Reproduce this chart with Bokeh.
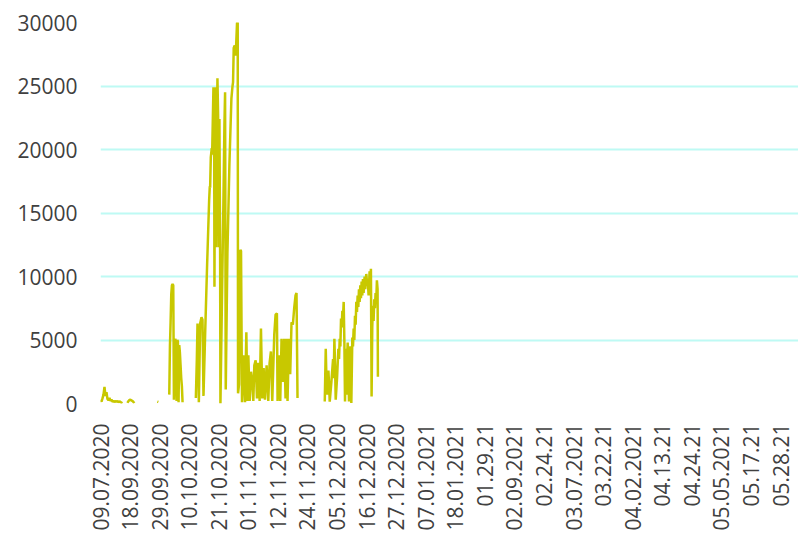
from bokeh.plotting import figure
from bokeh.models import Range1d, FixedTicker
from bokeh.embed import file_html
from bokeh.resources import INLINE

# category labels shown on the x axis (one every 89 rows)
x_labels = ["09.07.2020", "18.09.2020", "29.09.2020", "10.10.2020", "21.10.2020",
            "01.11.2020", "12.11.2020", "24.11.2020", "05.12.2020", "16.12.2020",
            "27.12.2020", "07.01.2021", "18.01.2021", "01.29.21", "02.09.2021",
            "02.24.21", "03.07.2021", "03.22.21", "04.02.2021", "04.13.21",
            "04.24.21", "05.05.2021", "05.17.21", "05.28.21"]
label_step = 89
n_rows = 2101
y_ticks = [0, 5000, 10000, 15000, 20000, 25000, 30000]

# series segments (row index, value); gaps between segments are empty rows
idx_a = [0, 3, 6, 9, 12, 15, 18, 21, 24, 27, 30, 33, 36, 39, 42, 45, 48, 51, 54, 57, 60, 63, 66]
val_a = [300, 150, 400, 700, 1300, 600, 900, 350, 250, 450, 200, 300, 150, 200, 120, 180,
         150, 200, 100, 160, 120, 60, 20]

idx_b = [81, 84, 87, 90, 93, 96, 99, 102]
val_b = [50, 180, 280, 300, 250, 200, 120, 30]

idx_c = [171, 174]
val_c = [150, 120]

idx_d = [207, 209, 211, 213, 215, 217, 219, 221, 223, 225, 227, 229, 231, 233, 235, 237,
         239, 241, 243, 245, 247]
val_d = [700, 4500, 6400, 8600, 9300, 9400, 9300, 300, 3000, 5100, 4800, 200, 5000, 4900,
         100, 4600, 4000, 3000, 2000, 1350, 100]

idx_e = [287, 290, 292, 294, 296, 300, 304, 307, 310, 315, 321, 327, 329, 330, 332, 335,
         336, 340, 342, 343, 345, 347, 348, 350, 352, 354, 356, 358, 360, 361, 365, 370,
         373, 375, 377, 382, 388, 394, 397, 399, 401, 404, 406, 408, 411, 413, 414, 417,
         421, 423, 426, 430, 435, 439, 442, 445, 449, 453, 457, 460, 463, 467, 471, 475,
         479, 483, 487, 491, 495, 500, 505, 509, 513, 517, 523, 527, 531, 533, 537, 541,
         545, 549, 553, 557, 560, 563, 567, 571, 575, 579, 583, 587, 590, 593]
val_e = [440, 3500, 6300, 5000, 100, 6300, 6800, 6600, 600, 5500, 11000, 16000, 17100,
         17000, 19400, 20100, 19600, 24900, 24000, 9200, 24900, 18800, 12300, 20100, 25600,
         22700, 12300, 22400, 12300, 0, 7100, 15900, 21900, 24500, 1100, 11800, 18800,
         24000, 24900, 25300, 28000, 28200, 27400, 28000, 30000, 30000, 800, 1500, 12100,
         12000, 100, 3800, 100, 5600, 200, 3800, 200, 2500, 1700, 200, 3000, 3400, 400,
         3200, 200, 5900, 400, 2800, 300, 3000, 200, 3200, 4100, 200, 5400, 7000, 7100,
         200, 3800, 200, 5100, 1700, 5100, 400, 5100, 200, 5100, 2300, 6400, 6200, 7500,
         8500, 8700, 440]

idx_f = [675, 678, 680, 682, 686, 688, 690, 695, 700, 702, 704, 706, 708, 712, 716, 718,
         720, 722, 724, 726, 728, 730, 732, 734, 736, 738, 740, 742, 744, 746, 748, 750,
         752, 755, 758, 760, 762, 764, 766, 768, 770, 772, 774, 776, 778, 780, 782, 784,
         786, 788, 790, 792, 795, 797, 800, 803, 805, 807, 810, 812, 814, 816, 818, 820,
         822, 824, 826, 828, 830, 832, 834, 835]
val_f = [150, 4300, 2000, 700, 2600, 1500, 150, 1700, 3500, 2000, 5100, 3000, 300, 2000,
         4300, 3500, 5100, 4500, 6700, 6000, 7300, 6800, 8000, 5000, 150, 4300, 700, 3500,
         4800, 2500, 150, 3500, 4500, 50, 5200, 4500, 5900, 5000, 6900, 6200, 8000, 7200,
         8500, 7600, 9000, 8000, 9300, 8300, 9600, 8500, 9800, 8700, 10000, 9000, 10200,
         9300, 9500, 8500, 10400, 9500, 10600, 550, 6000, 7700, 6500, 8200, 7500, 8700,
         8000, 9700, 9000, 2100]

segments = [(idx_a, val_a), (idx_b, val_b), (idx_c, val_c),
            (idx_d, val_d), (idx_e, val_e), (idx_f, val_f)]

FONT = "Open Sans"
TXT = "#404040"
GRID = "#BEFAF4"
LINE = "#C8C800"

p = figure(width=798, height=533, output_backend="svg", toolbar_location=None,
           x_range=Range1d(0, n_rows), y_range=Range1d(0, 30000),
           min_border_left=100, min_border_right=0, min_border_top=22,
           min_border_bottom=127)
p.outline_line_color = None
p.background_fill_color = "white"
p.border_fill_color = "white"

for xs, ys in segments:
    p.line(xs, ys, line_color=LINE, line_width=2.5)

# y axis
p.yaxis.ticker = FixedTicker(ticks=y_ticks)
p.yaxis.axis_line_color = None
p.yaxis.major_tick_line_color = None
p.yaxis.minor_tick_line_color = None
p.yaxis.major_tick_out = 0
p.yaxis.major_tick_in = 0
p.yaxis.major_label_standoff = 23
p.yaxis.major_label_text_font = FONT
p.yaxis.major_label_text_font_size = "21px"
p.yaxis.major_label_text_color = TXT

# x axis
tick_pos = [i * label_step for i in range(len(x_labels))]
p.xaxis.ticker = FixedTicker(ticks=tick_pos)
p.xaxis.major_label_overrides = {t: lab for t, lab in zip(tick_pos, x_labels)}
p.xaxis.major_label_orientation = 1.5707963267948966
p.xaxis.axis_line_color = None
p.xaxis.major_tick_line_color = None
p.xaxis.minor_tick_line_color = None
p.xaxis.major_tick_out = 0
p.xaxis.major_tick_in = 0
p.xaxis.major_label_standoff = 20
p.xaxis.major_label_text_font = FONT
p.xaxis.major_label_text_font_size = "21px"
p.xaxis.major_label_text_color = TXT

p.xgrid.grid_line_color = None
p.ygrid.grid_line_color = GRID
p.ygrid.grid_line_width = 2

open("out.html", "w").write(file_html(p, INLINE))
